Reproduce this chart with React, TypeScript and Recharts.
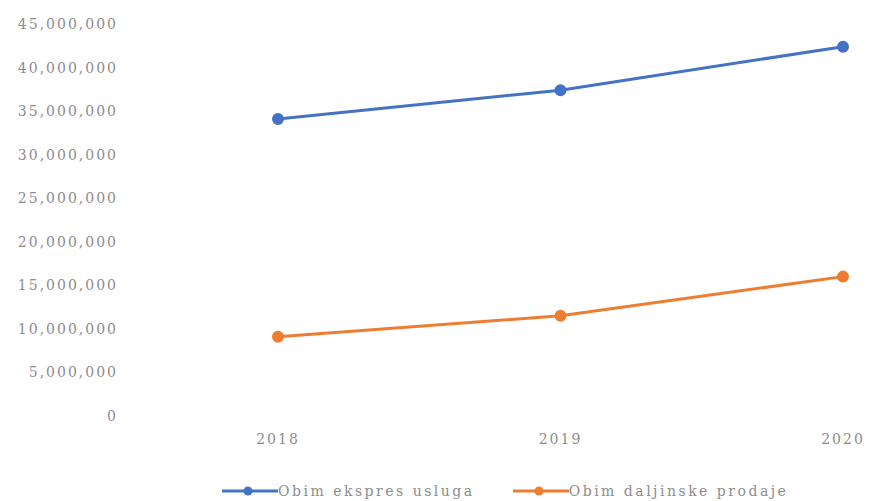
import { FC } from "react"
import { Legend, Line, LineChart, XAxis, YAxis } from "recharts"

const years = ["2018", "2019", "2020"]
const ekspres = [34100000, 37400000, 42400000]
const daljinska = [9100000, 11500000, 16000000]
const yTicks = [0, 5000000, 10000000, 15000000, 20000000, 25000000, 30000000, 35000000, 40000000, 45000000]

const seriesNames = ["Obim ekspres usluga", "Obim daljinske prodaje"]
const colors = ["#4472C4", "#ED7D31"]

const data = years.map((y, i) => ({ year: y, ekspres: ekspres[i], daljinska: daljinska[i] }))

const fmt = (v: number) => v.toLocaleString("en-US")

const tickStyle = { fontSize: 14, fill: "#8c8c8c", fontFamily: "'DejaVu Serif', serif", letterSpacing: 2 }

// legend drawn by hand so the icons are wide like the original
const LegendContent: FC = () => (
  <div style={{ display: "flex", paddingLeft: 222, fontFamily: "'DejaVu Serif', serif", fontSize: 14, color: "#8c8c8c", letterSpacing: 2.5 }}>
    {seriesNames.map((n, i) => (
      <div key={n} style={{ display: "flex", alignItems: "center", marginRight: 38 }}>
        <svg width={56} height={12}>
          <line x1={0} y1={6} x2={56} y2={6} stroke={colors[i]} strokeWidth={3} />
          <circle cx={26} cy={6} r={4.5} fill={colors[i]} />
        </svg>
        <span>{n}</span>
      </div>
    ))}
  </div>
)

const App: FC = () => {
  return (
    <div style={{ position: "absolute", left: 0, top: 0, background: "#fff" }}>
      <LineChart width={871} height={501} data={data} margin={{ top: 24, right: 28, bottom: 4, left: 0 }}>
        <XAxis dataKey="year" axisLine={false} tickLine={false} tickSize={0} tickMargin={18}
          padding={{ left: 148, right: 0 }} tick={tickStyle} height={65} interval={0} />
        <YAxis width={130} domain={[0, 45000000]} ticks={yTicks} axisLine={false} tickLine={false}
          tickSize={0} tickMargin={12} tickFormatter={fmt} tick={tickStyle} />
        <Legend verticalAlign="bottom" content={<LegendContent />} wrapperStyle={{ bottom: 2 }} />
        <Line dataKey="ekspres" name={seriesNames[0]} stroke={colors[0]} strokeWidth={3}
          dot={{ r: 4.5, fill: colors[0], stroke: colors[0] }} isAnimationActive={false} />
        <Line dataKey="daljinska" name={seriesNames[1]} stroke={colors[1]} strokeWidth={3}
          dot={{ r: 4.5, fill: colors[1], stroke: colors[1] }} isAnimationActive={false} />
      </LineChart>
    </div>
  )
}

export default App
